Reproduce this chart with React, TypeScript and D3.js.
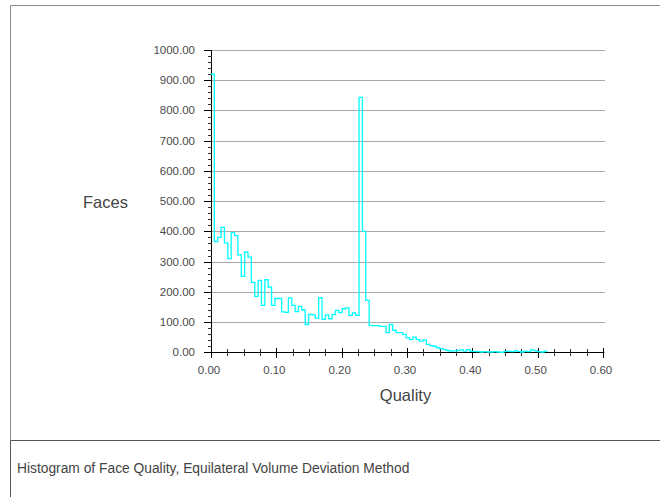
import React from "react";
import * as d3 from "d3";

// Histogram bins (Quality), fixed-width bins starting at binStart
const binStart = 0;
const binWidth = 0.00515;
const counts: number[] = [
  920, 366, 380, 413, 362, 310, 396, 386, 322, 251,
  331, 315, 231, 185, 238, 155, 240, 216, 155, 178,
  178, 134, 132, 180, 155, 135, 152, 140, 92, 125,
  124, 113, 181, 109, 124, 111, 125, 139, 131, 144,
  147, 122, 130, 122, 843, 400, 172, 89, 88, 88,
  86, 86, 65, 92, 73, 65, 65, 59, 48, 43,
  50, 42, 37, 40, 26, 22, 20, 15, 12, 9,
  6, 4, 5, 6, 8, 4, 9, 3, 3, 2,
  1, 2, 1, 1, 2, 1, 0, 3, 4, 2,
  5, 3, 1, 4, 2, 8, 5, 2, 1, 4,
];
const yTicks = [0, 100, 200, 300, 400, 500, 600, 700, 800, 900, 1000];
const xTicks = [0, 0.1, 0.2, 0.3, 0.4, 0.5, 0.6];
const yTitle = "Faces";
const xTitle = "Quality";
const caption = "Histogram of Face Quality, Equilateral Volume Deviation Method";

export default function App() {
  const W = 660, H = 497;
  const x = d3.scaleLinear().domain([0, 0.6]).range([211, 603]);
  const y = d3.scaleLinear().domain([0, 1000]).range([352.3, 50]);
  const font = "'Liberation Sans', Arial, Helvetica, sans-serif";

  const pts: [number, number][] = counts.map((c, i) => [binStart + i * binWidth, c]);
  pts.push([binStart + counts.length * binWidth, counts[counts.length - 1]]);
  const line = d3
    .line<[number, number]>()
    .x((d) => x(d[0]))
    .y((d) => y(d[1]))
    .curve(d3.curveStepAfter);

  const yMinor = d3.range(0, 1001, 20).filter((v) => v % 100 !== 0);
  const xMinor = d3.range(0, 25).map((i) => i * 0.025).filter((v) => Math.abs(v * 10 - Math.round(v * 10)) > 1e-6);

  return (
    <div style={{ position: "absolute", left: 0, top: 0 }}>
      <svg width={W} height={H} style={{ display: "block", background: "#fff" }}>
        {/* frame */}
        <line x1={10.5} y1={5.5} x2={660} y2={5.5} stroke="#8a8a8a" strokeWidth={1} />
        <line x1={10.5} y1={5.5} x2={10.5} y2={440.5} stroke="#8a8a8a" strokeWidth={1} />
        <line x1={10.5} y1={440.5} x2={660} y2={440.5} stroke="#555" strokeWidth={1.2} />
        <line x1={10.5} y1={440.5} x2={10.5} y2={497} stroke="#555" strokeWidth={1} />

        {/* gridlines */}
        {yTicks.map((t) => (
          <line key={"g" + t} x1={211} x2={605} y1={Math.round(y(t)) + 0.5} y2={Math.round(y(t)) + 0.5} stroke="#a8a8a8" strokeWidth={1} />
        ))}

        {/* y axis */}
        <line x1={211.5} x2={211.5} y1={50} y2={352.8} stroke="#000" strokeWidth={1} />
        {yTicks.map((t) => (
          <g key={"yt" + t}>
            <line x1={204} x2={212} y1={Math.round(y(t)) + 0.5} y2={Math.round(y(t)) + 0.5} stroke="#000" />
            <text x={195} y={y(t)} dy="0.35em" textAnchor="end" fontFamily={font} fontSize={11.5} fill="#4a4a4a">
              {t.toFixed(2)}
            </text>
          </g>
        ))}
        {yMinor.map((t) => (
          <line key={"ym" + t} x1={208} x2={212} y1={Math.round(y(t)) + 0.5} y2={Math.round(y(t)) + 0.5} stroke="#333" />
        ))}

        {/* x axis */}
        <line x1={211} x2={604} y1={352.5} y2={352.5} stroke="#000" strokeWidth={1} />
        {xTicks.map((t) => (
          <g key={"xt" + t}>
            <line x1={Math.round(x(t)) + 0.5} x2={Math.round(x(t)) + 0.5} y1={348} y2={358} stroke="#000" />
            <text x={x(t) - 2} y={374} textAnchor="middle" fontFamily={font} fontSize={11.5} fill="#4a4a4a">
              {t.toFixed(2)}
            </text>
          </g>
        ))}
        {xMinor.map((t) => (
          <line key={"xm" + t} x1={Math.round(x(t)) + 0.5} x2={Math.round(x(t)) + 0.5} y1={349} y2={356} stroke="#333" />
        ))}

        {/* histogram */}
        <path d={line(pts) || ""} fill="none" stroke="#00ffff" strokeWidth={1.3} />

        {/* titles */}
        <text x={105.5} y={202} dy="0.35em" textAnchor="middle" fontFamily={font} fontSize={16.5} fill="#444">
          {yTitle}
        </text>
        <text x={405.5} y={395} dy="0.35em" textAnchor="middle" fontFamily={font} fontSize={16.5} fill="#444">
          {xTitle}
        </text>

        {/* caption */}
        <text x={17} y={468} dy="0.35em" fontFamily={font} fontSize={13.8} fill="#444">
          {caption}
        </text>
      </svg>
    </div>
  );
}
